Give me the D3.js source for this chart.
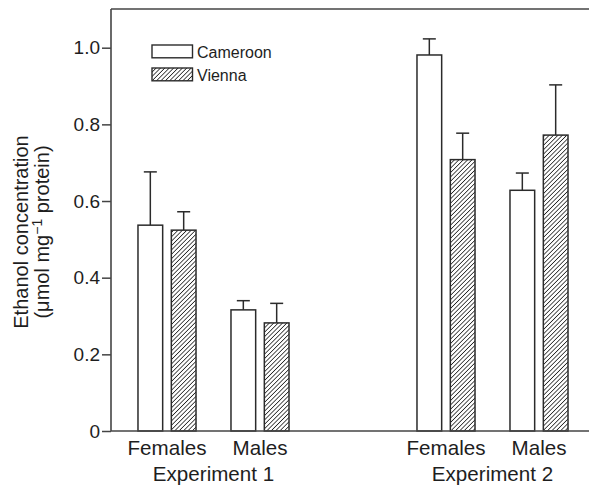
<!DOCTYPE html>
<html><head><meta charset="utf-8">
<script src="https://cdn.jsdelivr.net/npm/d3@7"></script>
<style>body{margin:0;background:#fff;} svg{display:block;font-family:"Liberation Sans",Arial,sans-serif;}</style>
</head><body>
<svg id="c" width="589" height="487"></svg>
<script>
const groups = ["Exp1 Females","Exp1 Males","gap","Exp2 Females","Exp2 Males"];
const groupLabels = ["Females","Males","","Females","Males"];
const series = ["Cameroon","Vienna"];
const cameroon = [0.537, 0.316, null, 0.981, 0.628];
const cameroonErr = [0.139, 0.024, null, 0.042, 0.045];
const vienna = [0.524, 0.282, null, 0.708, 0.772];
const viennaErr = [0.048, 0.051, null, 0.069, 0.131];
const yTicks = [0, 0.2, 0.4, 0.6, 0.8, 1.0];
const experiments = [{name:"Experiment 1", from:"Exp1 Females", to:"Exp1 Males"},{name:"Experiment 2", from:"Exp2 Females", to:"Exp2 Males"}];

const svg = d3.select("#c");
const ink = "#2b2b2b";
const txt = "#1e1e1e";
const pLeft = 111, pRight = 589, pTop = 9, pBottom = 431;

const y = d3.scaleLinear().domain([0, 1.1]).range([pBottom, pBottom - 1.1*383.3]);
const x0 = d3.scaleBand().domain(groups).range([120.5, 585.5]).paddingInner(0.376).paddingOuter(0.188);
const x1 = d3.scaleBand().domain(series).range([0, x0.bandwidth()]).paddingInner(0.26).paddingOuter(0);

const defs = svg.append("defs");
const pat = defs.append("pattern").attr("id","hatch").attr("patternUnits","userSpaceOnUse")
  .attr("width",3.1).attr("height",3.1).attr("patternTransform","rotate(45)");
pat.append("rect").attr("width",3.1).attr("height",3.1).attr("fill","#fff");
pat.append("line").attr("x1",0).attr("y1",0).attr("x2",0).attr("y2",3.1).attr("stroke","#1a1a1a").attr("stroke-width",1.5);

const data = [];
groups.forEach((g,i)=>{
  if (cameroon[i]!=null) data.push({g, s:"Cameroon", v:cameroon[i], e:cameroonErr[i]});
  if (vienna[i]!=null) data.push({g, s:"Vienna", v:vienna[i], e:viennaErr[i]});
});

// error bars
const eb = svg.append("g").attr("stroke", ink).attr("stroke-width",1.5);
data.forEach(d=>{
  const cx = x0(d.g) + x1(d.s) + x1.bandwidth()/2;
  eb.append("line").attr("x1",cx).attr("x2",cx).attr("y1",y(d.v)).attr("y2",y(d.v+d.e));
  eb.append("line").attr("x1",cx-6.5).attr("x2",cx+6.5).attr("y1",y(d.v+d.e)).attr("y2",y(d.v+d.e));
});

// bars
svg.append("g").selectAll("rect").data(data).join("rect")
  .attr("x", d=>x0(d.g)+x1(d.s))
  .attr("y", d=>y(d.v))
  .attr("width", x1.bandwidth())
  .attr("height", d=>y(0)-y(d.v))
  .attr("fill", d=>d.s==="Cameroon" ? "#fff" : "url(#hatch)")
  .attr("stroke", ink).attr("stroke-width",1.5);

// axes frame
const fr = svg.append("g").attr("stroke","#444").attr("stroke-width",1.6);
fr.append("line").attr("x1",pLeft).attr("x2",pRight).attr("y1",pTop).attr("y2",pTop);
fr.append("line").attr("x1",pLeft).attr("x2",pLeft).attr("y1",pTop).attr("y2",pBottom);
fr.append("line").attr("x1",pLeft).attr("x2",pRight).attr("y1",pBottom).attr("y2",pBottom);

// y axis
const yAxis = d3.axisLeft(y).tickValues(yTicks).tickSize(9).tickPadding(2)
  .tickFormat(d=> d===0 ? "0" : d3.format(".1f")(d));
const ya = svg.append("g").attr("transform",`translate(${pLeft},0)`).call(yAxis);
ya.select(".domain").remove();
ya.selectAll(".tick line").attr("stroke","#444").attr("stroke-width",1.5);
ya.selectAll(".tick text").attr("font-size",19).attr("fill",txt).attr("font-family","Liberation Sans, Arial, sans-serif");

// x labels
svg.append("g").selectAll("text").data(groups.filter((g,i)=>groupLabels[i])).join("text")
  .attr("x", g=>x0(g)+x0.bandwidth()/2).attr("y", 455)
  .attr("text-anchor","middle").attr("font-size",20.6).attr("fill",txt)
  .text(g=>groupLabels[groups.indexOf(g)]);
svg.append("g").selectAll("text").data(experiments).join("text")
  .attr("x", d=>(x0(d.from)+x0(d.to)+x0.bandwidth())/2).attr("y", 481)
  .attr("text-anchor","middle").attr("font-size",20.6).attr("fill",txt)
  .text(d=>d.name);

// y title
const yt = svg.append("text").attr("transform","translate(28,232) rotate(-90)")
  .attr("text-anchor","middle").attr("font-size",20).attr("fill",txt);
yt.append("tspan").attr("x",0).attr("dy",0).text("Ethanol concentration");
const l2 = yt.append("tspan").attr("x",0).attr("dy",21);
l2.append("tspan").text("(μmol mg");
l2.append("tspan").attr("dy",-7).attr("font-size",14).text("−1");
l2.append("tspan").attr("dy",7).text(" protein)");

// legend
const lg = svg.append("g");
series.forEach((s,i)=>{
  const yy = 45 + i*23;
  lg.append("rect").attr("x",152).attr("y",yy).attr("width",40.5).attr("height",12.8)
    .attr("fill", s==="Cameroon" ? "#fff" : "url(#hatch)").attr("stroke",ink).attr("stroke-width",1.4);
  lg.append("text").attr("x",197).attr("y",yy+13.3).attr("font-size",16).attr("fill",txt).text(s);
});
</script>
</body></html>
